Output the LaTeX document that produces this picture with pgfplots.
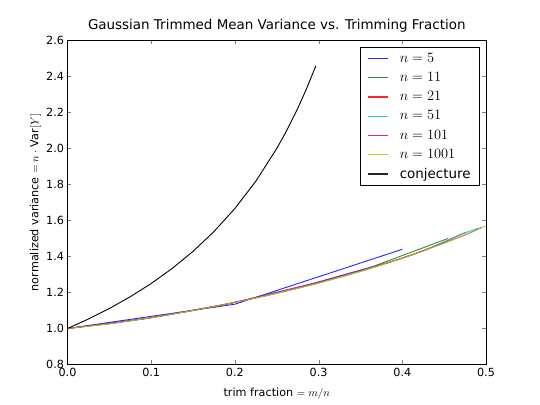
\documentclass[border=0pt]{standalone}
\usepackage{fontspec}
\setmainfont{DejaVu Sans}
\usepackage{pgfplots}
\pgfplotsset{compat=1.18}
\definecolor{mplblue}{rgb}{0,0,1}
\definecolor{mplgreen}{rgb}{0,0.5,0}
\definecolor{mplred}{rgb}{1,0,0}
\definecolor{mplcyan}{rgb}{0,0.75,0.75}
\definecolor{mplmagenta}{rgb}{0.75,0,0.75}
\definecolor{mplyellow}{rgb}{0.75,0.75,0}
\begin{document}
\begin{tikzpicture}
\useasboundingbox (-67.5bp,-40.5bp) rectangle (472.5bp,364.5bp);
\begin{axis}[
  at={(0,0)}, anchor=south west,
  scale only axis, width=418.5bp, height=324bp,
  xmin=0, xmax=0.5, ymin=0.8, ymax=2.6,
  xtick={0,0.1,0.2,0.3,0.4,0.5},
  ytick={0.8,1.0,1.2,1.4,1.6,1.8,2.0,2.2,2.4,2.6},
  tick align=inside, major tick length=4bp,
  xticklabel style={/pgf/number format/.cd,fixed,fixed zerofill,precision=1},
  yticklabel style={/pgf/number format/.cd,fixed,fixed zerofill,precision=1},
  /pgf/number format/assume math mode=true,
  tick label style={font=\fontsize{11.25}{12}\selectfont},
  label style={font=\fontsize{11.25}{12}\selectfont},
  title style={font=\fontsize{13.5}{15}\selectfont, at={(axis description cs:0.5,1)}, anchor=base, yshift=5bp},
  title={Gaussian Trimmed Mean Variance vs. Trimming Fraction},
  xlabel style={at={(axis description cs:0.5,0)}, anchor=base, yshift=-31.5bp},
  ylabel style={at={(axis description cs:-0.0693,0.5)}, anchor=base},
  xlabel={trim fraction $=m/n$},
  ylabel={normalized variance $=n\cdot\mathrm{Var}[Y]$},
  every axis plot/.append style={line width=0.9bp, opacity=0.85},
  legend image code/.code={\draw[#1] (0bp,0bp) -- (20bp,0bp);},
  legend style={at={(0.9857,0.98)}, anchor=north east, draw=black, fill=white,
    font=\fontsize{13.5}{15}\selectfont, row sep=4.4bp, inner xsep=7bp, inner ysep=4bp,
    line width=0.8bp, /tikz/every odd column/.append style={column sep=9bp}},
  legend cell align=left,
]
\addlegendimage{draw=mplblue, line width=1.2bp}
\addlegendentry{$n=5$}
\addlegendimage{draw=mplgreen, line width=1.2bp}
\addlegendentry{$n=11$}
\addlegendimage{draw=mplred, line width=1.2bp}
\addlegendentry{$n=21$}
\addlegendimage{draw=mplcyan, line width=1.2bp}
\addlegendentry{$n=51$}
\addlegendimage{draw=mplmagenta, line width=1.2bp}
\addlegendentry{$n=101$}
\addlegendimage{draw=mplyellow, line width=1.2bp}
\addlegendentry{$n=1001$}
\addlegendimage{draw=black, line width=1.2bp}
\addlegendentry{conjecture}
\addplot[draw=mplblue, forget plot] coordinates {(0,1.0)(0.2,1.135)(0.4,1.44)};
\addplot[draw=mplgreen, forget plot] coordinates {(0,1)(0.0909,1.053)(0.1818,1.126)(0.2727,1.222)(0.3636,1.342)(0.4545,1.500)};
\addplot[draw=mplred, forget plot] coordinates {(0,1)(0.0476,1.025)(0.0952,1.057)(0.1429,1.094)(0.1905,1.136)(0.2381,1.183)(0.2857,1.236)(0.3333,1.295)(0.381,1.362)(0.4286,1.437)(0.4762,1.535)};
\addplot[draw=mplcyan, forget plot] coordinates {(0,1)(0.0588,1.031)(0.1176,1.073)(0.1765,1.123)(0.2353,1.180)(0.2941,1.245)(0.3529,1.321)(0.4118,1.408)(0.4510,1.482)(0.4706,1.525)(0.4902,1.556)};
\addplot[draw=mplmagenta, forget plot] coordinates {(0,1)(0.099,1.059)(0.198,1.143)(0.297,1.255)(0.396,1.384)(0.4455,1.467)(0.4752,1.520)(0.4851,1.540)(0.4950,1.563)};
\addplot[draw=mplyellow, forget plot] coordinates {(0,1)(0.05,1.026)(0.1,1.060)(0.15,1.100)(0.2,1.145)(0.25,1.195)(0.3,1.252)(0.35,1.317)(0.4,1.390)(0.45,1.474)(0.475,1.520)(0.49,1.550)(0.4995,1.570)};
\addplot[draw=black, opacity=1, forget plot] coordinates {(0,1)(0.025,1.0526)(0.05,1.1111)(0.075,1.1765)(0.1,1.25)(0.125,1.3333)(0.15,1.4286)(0.175,1.5385)(0.2,1.6667)(0.225,1.8182)(0.25,2.0)(0.26,2.0833)(0.275,2.2222)(0.285,2.3256)(0.2967,2.459)};
\end{axis}
\end{tikzpicture}
\end{document}
